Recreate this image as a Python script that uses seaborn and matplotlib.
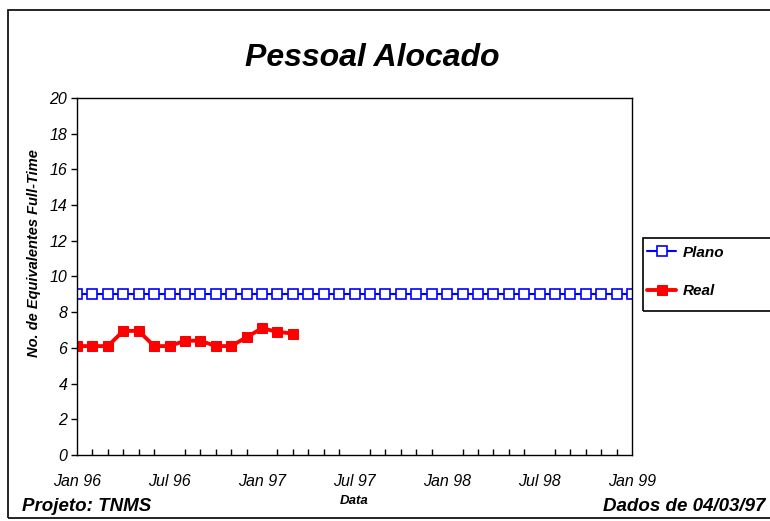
import numpy as np
import pandas as pd
import matplotlib
matplotlib.use("Agg")
import matplotlib.pyplot as plt
import seaborn as sns
from matplotlib.patches import Rectangle
from matplotlib.ticker import MultipleLocator

# ----------------------------------------------------
# Dados
# ----------------------------------------------------
meses_plano = np.arange(37)  # Jan 96 .. Jan 99
plano = [9] * 37
meses_real = np.arange(15)   # Jan 96 .. Mar 97
real = [6.1, 6.1, 6.1, 6.95, 6.95, 6.1, 6.1, 6.4, 6.4, 6.1, 6.1, 6.6, 7.1, 6.9, 6.8]
tick_labels = ['Jan 96', 'Jul 96', 'Jan 97', 'Jul 97', 'Jan 98', 'Jul 98', 'Jan 99']

df_plano = pd.DataFrame({'mes': meses_plano, 'valor': plano})
df_real = pd.DataFrame({'mes': meses_real, 'valor': real})

# ----------------------------------------------------
# Figura
# ----------------------------------------------------
sns.set_style("white")
plt.rcParams['font.family'] = ['Liberation Sans', 'DejaVu Sans']
plt.rcParams['text.color'] = 'black'
plt.rcParams['axes.labelcolor'] = 'black'
plt.rcParams['xtick.color'] = 'black'
plt.rcParams['ytick.color'] = 'black'

fig = plt.figure(figsize=(7.7, 5.21), dpi=100)
ax = fig.add_axes([0.1, 0.1267, 0.721, 0.6853])

sns.lineplot(data=df_plano, x='mes', y='valor', ax=ax, color='#0000ff', lw=1.5,
             marker='s', markersize=6.5, markerfacecolor='white',
             markeredgecolor='#0000ff', markeredgewidth=1.2, label='Plano')
sns.lineplot(data=df_real, x='mes', y='valor', ax=ax, color='#ff0000', lw=2.8,
             marker='s', markersize=7, markerfacecolor='#ff0000',
             markeredgecolor='#ff0000', label='Real')

ax.set_xlim(0, 36)
ax.set_ylim(0, 20)
ax.set_xticks(np.arange(0, 37, 6))
ax.set_xticklabels(tick_labels, fontsize=11.5, style='italic')
ax.xaxis.set_minor_locator(MultipleLocator(1))
ax.set_yticks(np.arange(0, 21, 2))
ax.set_yticklabels([str(v) for v in range(0, 21, 2)], fontsize=11.5, style='italic')

ax.tick_params(axis='x', which='major', direction='inout', length=8, width=1, pad=10)
ax.tick_params(axis='x', which='minor', direction='in', length=4, width=1, bottom=True)
ax.tick_params(axis='y', which='major', direction='out', length=4, width=1, left=True, pad=3)
for s in ax.spines.values():
    s.set_color('black')
    s.set_linewidth(1)

ax.set_xlabel('Data', fontsize=9.5, fontweight='bold', style='italic', labelpad=4)
ax.set_ylabel('No. de Equivalentes Full-Time', fontsize=10.5, fontweight='bold',
              style='italic')
ax.yaxis.set_label_coords(-0.064, 0.566)

# legenda sem moldura + caixa desenhada à parte (sai pela direita)
leg = ax.legend(loc='upper left', bbox_to_anchor=(1.005, 0.62), frameon=False,
                prop={'weight': 'bold', 'style': 'italic', 'size': 11},
                labelspacing=1.6, handlelength=1.9, handletextpad=0.4, borderpad=0.3)
fig.patches.append(Rectangle((0.835, 0.403), 0.3, 0.14, transform=fig.transFigure,
                             fill=False, edgecolor='black', lw=1.2))

fig.text(0.483, 0.889, 'Pessoal Alocado', ha='center', va='center',
         fontsize=23, fontweight='bold', style='italic')
fig.text(0.028, 0.027, 'Projeto: TNMS', ha='left', va='center',
         fontsize=13.5, fontweight='bold', style='italic')
fig.text(0.994, 0.027, 'Dados de 04/03/97', ha='right', va='center',
         fontsize=13.5, fontweight='bold', style='italic')

fig.patches.append(Rectangle((0.011, 0.006), 1.2, 0.975, transform=fig.transFigure,
                             fill=False, edgecolor='black', lw=1.2))

plt.savefig('out.png', dpi=100)
plt.close()
